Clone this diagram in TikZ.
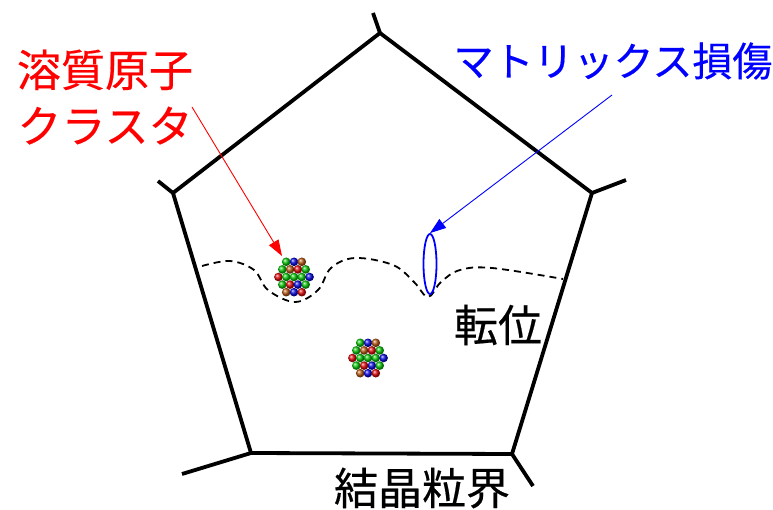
\documentclass[tikz,border=0pt]{standalone}
\usepackage{fontspec}
\newfontfamily\jp[FakeBold=0.4]{Noto Sans CJK JP}
\usetikzlibrary{arrows.meta,shapes.geometric}
\definecolor{ballgreen}{RGB}{10,200,10}
\definecolor{ballblue}{RGB}{10,10,230}
\definecolor{ballbrown}{RGB}{185,90,20}
\definecolor{ballred}{RGB}{225,10,10}
\tikzset{
  grain/.style={line width=3.8pt, line join=miter},
  dislocation/.style={line width=1.8pt, dash pattern=on 7pt off 5pt},
  label/.style={font=\jp\fontsize{44}{56}\selectfont, inner sep=0pt},
  pointer/.style={line width=0.9pt, -{Triangle[length=16pt,width=11pt]}},
  atom/.style={circle, inner sep=0pt, minimum size=8.6pt, ball color=#1},
  solutecluster/.pic={
    \foreach \px/\py/\c in {
      -7.8/-15.2/ballgreen, 0/-15.2/ballblue, 7.8/-15.2/ballbrown,
      -11.7/-7.6/ballgreen, -3.9/-7.6/ballbrown, 3.9/-7.6/ballred, 11.7/-7.6/ballgreen,
      -15.6/0/ballred, -7.8/0/ballgreen, 0/0/ballgreen, 7.8/0/ballgreen, 15.6/0/ballblue,
      -11.7/7.6/ballgreen, -3.9/7.6/ballred, 3.9/7.6/ballblue, 11.7/7.6/ballgreen,
      -7.8/15.2/ballbrown, 0/15.2/ballblue, 7.8/15.2/ballred}
      \node[atom=\c] at (\px,\py) {};
  }
}
\begin{document}
\begin{tikzpicture}[x=1pt,y=-1pt]
\useasboundingbox[fill=white] (0,0) rectangle (773,510);

% grain: pentagon corners and boundary stubs
\coordinate (vt) at (380,33);
\coordinate (vr) at (592,193);
\coordinate (vbr) at (512,454);
\coordinate (vbl) at (251,453);
\coordinate (vl) at (173,193);
\coordinate (st) at (373,13);
\coordinate (sr) at (626,180);
\coordinate (sbr) at (533,486);
\coordinate (sbl) at (182,474);
\coordinate (sl) at (158,181);

\draw[grain] (vt) -- (vr) -- (vbr) -- (vbl) -- (vl) -- cycle;
\draw[grain] (vt) -- (st);
\draw[grain] (vr) -- (sr);
\draw[grain] (vbr) -- (sbr);
\draw[grain] (vbl) -- (sbl);
\draw[grain] (vl) -- (sl);

% dislocation line bowing around obstacles
\draw[dislocation] plot[smooth, tension=0.6] coordinates {
  (202,266) (230,261) (254,270) (268,290) (295,302) (318,290) (331,268)
  (355,258) (393,265) (414,282) (428,297) (441,282) (460,270) (492,268) (563,279)};

% solute atom clusters
\pic at (294,277) {solutecluster};
\pic at (368,358) {solutecluster};

% matrix damage loop
\node[draw=blue, line width=1.8pt, ellipse, minimum width=13pt, minimum height=60pt, inner sep=0pt] (damage) at (430,264) {};

% labels
\node[label, text=red, align=center] (solute) at (105,97) {溶質原子\\クラスタ};
\node[label, text=blue, font=\jp\fontsize{40}{48}\selectfont] (matrix) at (613,61) {マトリックス損傷};
\node[label] (disl) at (498,325) {転位};
\node[label] (gb) at (422,488) {結晶粒界};

% pointers
\coordinate (redstart) at (192,107);
\coordinate (redend) at (282,256);
\coordinate (bluestart) at (612,95);
\draw[pointer, red] (redstart) -- (redend);
\draw[pointer, blue] (bluestart) -- (damage.north);
\end{tikzpicture}
\end{document}
